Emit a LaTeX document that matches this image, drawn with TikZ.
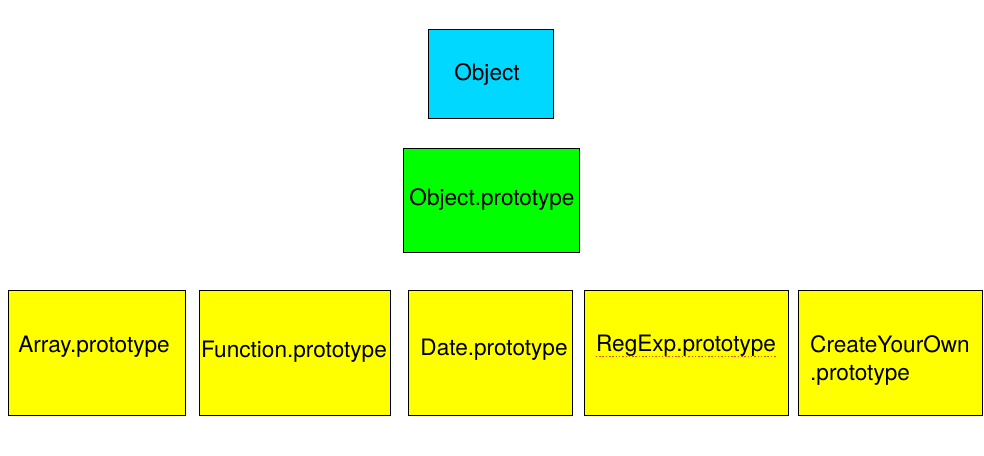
\documentclass[tikz,border=0pt]{standalone}
\usepackage{fontspec}
\setmainfont{TeX Gyre Heros}
\definecolor{objcyan}{HTML}{00D8FF}
\definecolor{protogreen}{HTML}{00FF00}
\definecolor{protoyellow}{HTML}{FFFF00}
\definecolor{spellred}{HTML}{E0501A}
\tikzset{
  box/.style={draw=black, line width=1pt, anchor=north west, inner sep=0pt, outer sep=0pt},
  lbl/.style={inner sep=0pt, anchor=base, font=\fontsize{22.6}{28.5}\selectfont},
}
\begin{document}
\begin{tikzpicture}[x=1pt,y=-1pt]
\useasboundingbox (0,0) rectangle (984,455);
% boxes
\node[box, fill=objcyan, minimum width=125pt, minimum height=89pt] (obj) at (428.5,29.5) {};
\node[box, fill=protogreen, minimum width=176pt, minimum height=104pt] (objp) at (403.5,148.5) {};
\node[box, fill=protoyellow, minimum width=177pt, minimum height=125pt] (arr) at (8,290.5) {};
\node[box, fill=protoyellow, minimum width=191pt, minimum height=125pt] (fun) at (199,290.5) {};
\node[box, fill=protoyellow, minimum width=164pt, minimum height=125pt] (dat) at (408.5,290.5) {};
\node[box, fill=protoyellow, minimum width=204pt, minimum height=125pt] (reg) at (584.5,290.5) {};
\node[box, fill=protoyellow, minimum width=184pt, minimum height=125pt] (cyo) at (798.5,290.5) {};
% texts
\node[lbl] (objt) at (487,80) {Object};
\node[lbl] (objpt) at (492,205) {Object.prototype};
\node[lbl] (arrt) at (94,352.5) {Array.prototype};
\node[lbl] (funt) at (294,357.5) {Function.prototype};
\node[lbl] (datt) at (494,355) {Date.prototype};
\node[lbl] (regt) at (686,351.7) {RegExp.prototype};
\node[lbl, anchor=north west, align=left] (cyot) at (810,335) {CreateYourOwn\\.prototype};
% spell-check underline
\draw[spellred, line width=1.3pt, dash pattern=on 1.5pt off 1.8pt]
  ([yshift=-4.5pt]regt.base west) -- ([yshift=-4.5pt]regt.base east);
\end{tikzpicture}
\end{document}
